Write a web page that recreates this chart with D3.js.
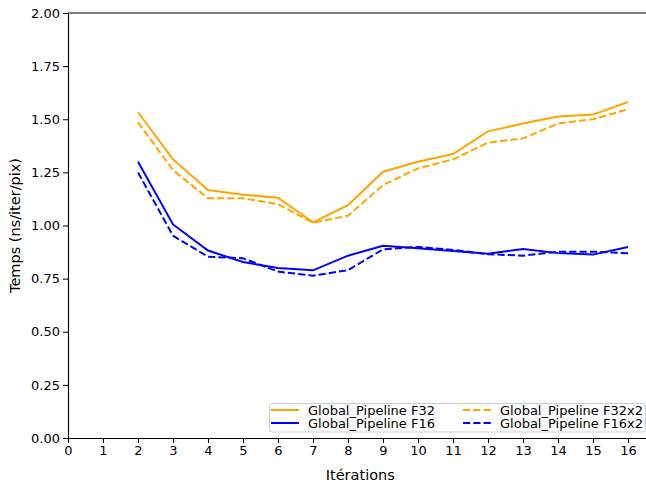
<!DOCTYPE html>
<html><head><meta charset="utf-8">
<script src="https://cdn.jsdelivr.net/npm/d3@7"></script>
<style>body{margin:0;background:#fff}svg{display:block}text{font-family:"DejaVu Sans",sans-serif}</style>
</head><body>
<svg id="c" width="646" height="487"></svg>
<script>
const iterations = [2,3,4,5,6,7,8,9,10,11,12,13,14,15,16];
const f32   = [1.533,1.311,1.167,1.145,1.131,1.015,1.096,1.253,1.300,1.336,1.443,1.480,1.513,1.522,1.581];
const f16   = [1.300,1.005,0.882,0.828,0.800,0.789,0.858,0.905,0.893,0.880,0.867,0.889,0.870,0.863,0.899];
const f32x2 = [1.486,1.261,1.128,1.128,1.100,1.013,1.046,1.190,1.269,1.311,1.390,1.410,1.480,1.500,1.547];
const f16x2 = [1.250,0.952,0.853,0.846,0.783,0.764,0.790,0.888,0.899,0.885,0.865,0.858,0.877,0.877,0.869];
const xTicks = d3.range(0,17);
const yTicks = [0,0.25,0.5,0.75,1.0,1.25,1.5,1.75,2.0];
const seriesNames = ["Global_Pipeline F32","Global_Pipeline F16","Global_Pipeline F32x2","Global_Pipeline F16x2"];
const seriesColors = ["orange","blue","orange","blue"];
const seriesDashed = [false,false,true,true];
const seriesValues = [f32,f16,f32x2,f16x2];

const svg = d3.select("#c");
const L=68, R=652.5, T=13, B=438;
const x = d3.scaleLinear().domain([0,16.7]).range([L,R]);
const y = d3.scaleLinear().domain([0,2]).range([B,T]);
const fs = 13, lfs = 14.5;

const xa = svg.append("g").attr("transform",`translate(0,${B})`)
  .call(d3.axisBottom(x).tickValues(xTicks).tickFormat(d3.format("d")).tickSize(5).tickPadding(3));
const ya = svg.append("g").attr("transform",`translate(${L},0)`)
  .call(d3.axisLeft(y).tickValues(yTicks).tickFormat(d3.format(".2f")).tickSize(5).tickPadding(3));
[xa,ya].forEach(g=>{
  g.selectAll("text").attr("font-size",fs).attr("fill","#000").attr("font-family","DejaVu Sans");
  g.selectAll("line").attr("stroke","#000").attr("stroke-width",1);
  g.select(".domain").attr("stroke","#000").attr("stroke-width",1.1);
});
svg.append("line").attr("x1",L).attr("x2",R).attr("y1",T).attr("y2",T).attr("stroke","#555").attr("stroke-width",1.3);

const line = d3.line().x((d,i)=>x(iterations[i])).y(d=>y(d));
[0,2,1,3].forEach(k=>{
  svg.append("path").datum(seriesValues[k]).attr("d",line).attr("fill","none")
    .attr("stroke",seriesColors[k]).attr("stroke-width",2)
    .attr("stroke-dasharray",seriesDashed[k]?"7.2,3.1":null);
});

svg.append("text").attr("x",(L+R)/2).attr("y",479.5).attr("text-anchor","middle").attr("font-size",lfs).text("Itérations");
svg.append("text").attr("transform",`translate(20,${(T+B)/2}) rotate(-90)`).attr("text-anchor","middle").attr("font-size",lfs).text("Temps (ns/iter/pix)");

const lg = svg.append("g");
lg.append("rect").attr("x",269.5).attr("y",403.5).attr("width",376).attr("height",28.5).attr("rx",2.5)
  .attr("fill","#fff").attr("fill-opacity",0.8).attr("stroke","#ccc").attr("stroke-width",1);
const cols=[[271,308],[463,500]], rows=[410,423];
seriesNames.forEach((n,k)=>{
  const c=cols[Math.floor(k/2)], r=rows[k%2];
  lg.append("line").attr("x1",c[0]).attr("x2",c[0]+28).attr("y1",r).attr("y2",r)
    .attr("stroke",seriesColors[k]).attr("stroke-width",2).attr("stroke-dasharray",seriesDashed[k]?"7.2,3.1":null);
  lg.append("text").attr("x",c[1]).attr("y",r+4.7).attr("font-size",fs).text(n);
});
</script>
</body></html>
